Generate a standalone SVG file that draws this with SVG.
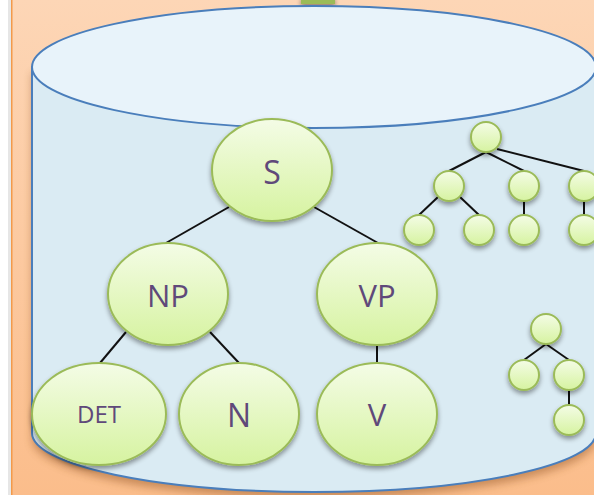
<svg xmlns="http://www.w3.org/2000/svg" width="594" height="495" viewBox="0 0 594 495">
  <defs>
    <linearGradient id="peach" x1="0" y1="0" x2="0" y2="1">
      <stop offset="0" stop-color="#fdd6b6"/>
      <stop offset="1" stop-color="#fbbd8b"/>
    </linearGradient>
    <linearGradient id="leaf" x1="0" y1="0" x2="0" y2="1">
      <stop offset="0" stop-color="#f4fce6"/>
      <stop offset="1" stop-color="#d6f3a0"/>
    </linearGradient>
    <filter id="shade" x="-20%" y="-20%" width="140%" height="150%">
      <feGaussianBlur in="SourceAlpha" stdDeviation="2.5"/>
      <feOffset dx="0" dy="3" result="b"/>
      <feComponentTransfer><feFuncA type="linear" slope="0.4"/></feComponentTransfer>
      <feMerge><feMergeNode/><feMergeNode in="SourceGraphic"/></feMerge>
    </filter>
    <filter id="soft" x="-10%" y="-10%" width="120%" height="130%">
      <feGaussianBlur stdDeviation="4"/>
    </filter>
  </defs>
  <style>
    .node { fill: url(#leaf); stroke: #9bbb59; stroke-width: 2; filter: url(#shade); }
    .edge { stroke: #111; stroke-width: 2; fill: none; }
    .lbl { font-family: "Open Sans", "Liberation Sans", sans-serif; fill: #5f497a; text-anchor: middle; }
  </style>

  <!-- page background -->
  <rect x="0" y="0" width="594" height="495" fill="#ffffff"/>
  <rect x="8" y="0" width="4" height="495" fill="#e6e6e6"/>
  <rect x="11" y="0" width="583" height="495" fill="url(#peach)"/>
  <rect x="11" y="0" width="1.5" height="495" fill="#f39a4a"/>

  <!-- small tab at the top -->
  <rect x="301" y="-4" width="34" height="8" fill="#9bbb59" filter="url(#shade)"/>

  <!-- database cylinder -->
  <g id="cylinder">
    <path d="M32,67 L32,433 A282,59 0 0 0 596,433 L596,67 Z" fill="#8a4d1c" opacity="0.45" filter="url(#soft)" transform="translate(0,6)"/>
    <path d="M32,67 L32,433 A282,59 0 0 0 596,433 L596,67 Z" fill="#daebf3" stroke="#4a7ebb" stroke-width="2"/>
    <ellipse cx="314" cy="67" rx="282" ry="61" fill="#e8f3fa" stroke="#4a7ebb" stroke-width="2"/>
  </g>

  <!-- connectors -->
  <g id="connectors">
    <line class="edge" x1="229" y1="207" x2="166" y2="243"/>
    <line class="edge" x1="314" y1="207" x2="378" y2="243"/>
    <line class="edge" x1="126" y1="332" x2="100" y2="363"/>
    <line class="edge" x1="210" y1="332" x2="239" y2="363"/>
    <line class="edge" x1="377" y1="345" x2="377" y2="363"/>

    <line class="edge" x1="486" y1="152" x2="449" y2="171"/>
    <line class="edge" x1="486" y1="152" x2="524" y2="171"/>
    <line class="edge" x1="497" y1="149" x2="584" y2="171"/>
    <line class="edge" x1="438" y1="197" x2="419" y2="215"/>
    <line class="edge" x1="460" y1="197" x2="479" y2="215"/>
    <line class="edge" x1="524" y1="200" x2="524" y2="215"/>
    <line class="edge" x1="584" y1="200" x2="584" y2="215"/>

    <line class="edge" x1="546" y1="344" x2="524" y2="360"/>
    <line class="edge" x1="546" y1="344" x2="569" y2="360"/>
    <line class="edge" x1="569" y1="390" x2="569" y2="405"/>
  </g>

  <!-- parse tree -->
  <g id="node-S">
    <ellipse class="node" cx="272" cy="170" rx="60" ry="51"/>
    <text class="lbl" x="272" y="184" font-size="32">S</text>
  </g>
  <g id="node-NP">
    <ellipse class="node" cx="168" cy="294" rx="60" ry="51"/>
    <text class="lbl" x="168" y="307" font-size="31">NP</text>
  </g>
  <g id="node-VP">
    <ellipse class="node" cx="377" cy="294" rx="60" ry="51"/>
    <text class="lbl" x="377" y="307" font-size="31">VP</text>
  </g>
  <g id="node-DET">
    <ellipse class="node" cx="99" cy="414" rx="67" ry="51"/>
    <text class="lbl" x="99" y="423" font-size="24">DET</text>
  </g>
  <g id="node-N">
    <ellipse class="node" cx="239" cy="414" rx="60" ry="51"/>
    <text class="lbl" x="239" y="427" font-size="32">N</text>
  </g>
  <g id="node-V">
    <ellipse class="node" cx="377" cy="414" rx="60" ry="51"/>
    <text class="lbl" x="377" y="426" font-size="31">V</text>
  </g>

  <!-- first small tree -->
  <g id="t1-root"><circle class="node" cx="486" cy="137" r="15"/></g>
  <g id="t1-a"><circle class="node" cx="449" cy="186" r="15"/></g>
  <g id="t1-b"><circle class="node" cx="524" cy="186" r="15"/></g>
  <g id="t1-c"><circle class="node" cx="584" cy="186" r="15"/></g>
  <g id="t1-a1"><circle class="node" cx="419" cy="230" r="15"/></g>
  <g id="t1-a2"><circle class="node" cx="479" cy="230" r="15"/></g>
  <g id="t1-b1"><circle class="node" cx="524" cy="230" r="15"/></g>
  <g id="t1-c1"><circle class="node" cx="584" cy="230" r="15"/></g>

  <!-- second small tree -->
  <g id="t2-root"><circle class="node" cx="546" cy="329" r="15"/></g>
  <g id="t2-a"><circle class="node" cx="524" cy="375" r="15"/></g>
  <g id="t2-b"><circle class="node" cx="569" cy="375" r="15"/></g>
  <g id="t2-b1"><circle class="node" cx="569" cy="420" r="15"/></g>
</svg>
